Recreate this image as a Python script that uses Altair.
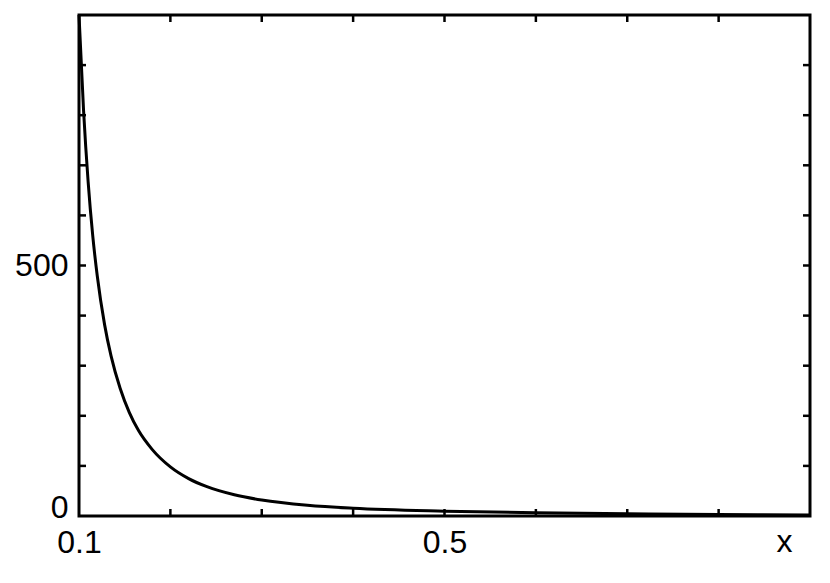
import altair as alt
import pandas as pd

# curve values
xs = [0.100, 0.105, 0.110, 0.115, 0.120, 0.128, 0.135, 0.145, 0.155, 0.165,
      0.180, 0.200, 0.220, 0.240, 0.270, 0.300, 0.350, 0.400, 0.500, 0.600,
      0.700, 0.800, 0.900]
ys = [1000, 809, 667, 560, 479, 382, 320, 255, 207, 171,
      133, 98, 74.6, 58.5, 42.3, 31.8, 21.3, 15.4, 9.6, 6.4,
      4.4, 3.1, 2.2]

x_ticks = [0.2, 0.3, 0.4, 0.5, 0.6, 0.7, 0.8]
y_ticks = [100, 200, 300, 400, 500, 600, 700, 800, 900]
x_labels = [0.1, 0.5]
y_labels = [0, 500]

W, H = 731, 501
TL = 7
FONT = "Liberation Sans"

curve = pd.DataFrame({"x": xs, "y": ys})
xt = pd.DataFrame({"x": x_ticks})
yt = pd.DataFrame({"y": y_ticks})

xscale = alt.Scale(domain=[0.1, 0.9], nice=False, zero=False)
yscale = alt.Scale(domain=[0, 1000], nice=False, zero=True)

x_axis = alt.Axis(values=x_labels, format=".1f", grid=False, domain=False,
                  ticks=False, tickSize=0, labelFlush=False,
                  labelFont=FONT, labelFontSize=32, labelColor="black",
                  labelPadding=11, title="x", titleFont=FONT,
                  titleFontSize=32, titleFontWeight="normal",
                  titleColor="black", titleX=705, titleY=35,
                  titleBaseline="alphabetic", titleAlign="center")
y_axis = alt.Axis(values=y_labels, grid=False, domain=False, ticks=False,
                  tickSize=0, labelFlush=True, labelFlushOffset=8, labelFont=FONT,
                  labelFontSize=32, labelColor="black", labelPadding=11,
                  title="")

line = alt.Chart(curve).mark_line(color="black", strokeWidth=3, interpolate="monotone").encode(
    x=alt.X("x:Q", scale=xscale, axis=x_axis),
    y=alt.Y("y:Q", scale=yscale, axis=y_axis),
)

tick_style = dict(color="black", strokeWidth=2.5)

bottom = alt.Chart(xt).mark_rule(**tick_style).encode(
    x=alt.X("x:Q", scale=xscale, axis=x_axis), y=alt.value(H), y2=alt.value(H - TL))
top = alt.Chart(xt).mark_rule(**tick_style).encode(
    x=alt.X("x:Q", scale=xscale, axis=x_axis), y=alt.value(0), y2=alt.value(TL))
left = alt.Chart(yt).mark_rule(**tick_style).encode(
    y=alt.Y("y:Q", scale=yscale, axis=y_axis), x=alt.value(0), x2=alt.value(TL))
right = alt.Chart(yt).mark_rule(**tick_style).encode(
    y=alt.Y("y:Q", scale=yscale, axis=y_axis), x=alt.value(W), x2=alt.value(W - TL))

chart = alt.layer(line, bottom, top, left, right).properties(
    width=W, height=H,
    autosize=alt.AutoSizeParams(type="none"),
    padding={"left": 71, "top": 7, "right": 10, "bottom": 50},
).configure_view(stroke="black", strokeWidth=3)

chart.save("out.html", embed_options={"renderer": "svg", "actions": False})
